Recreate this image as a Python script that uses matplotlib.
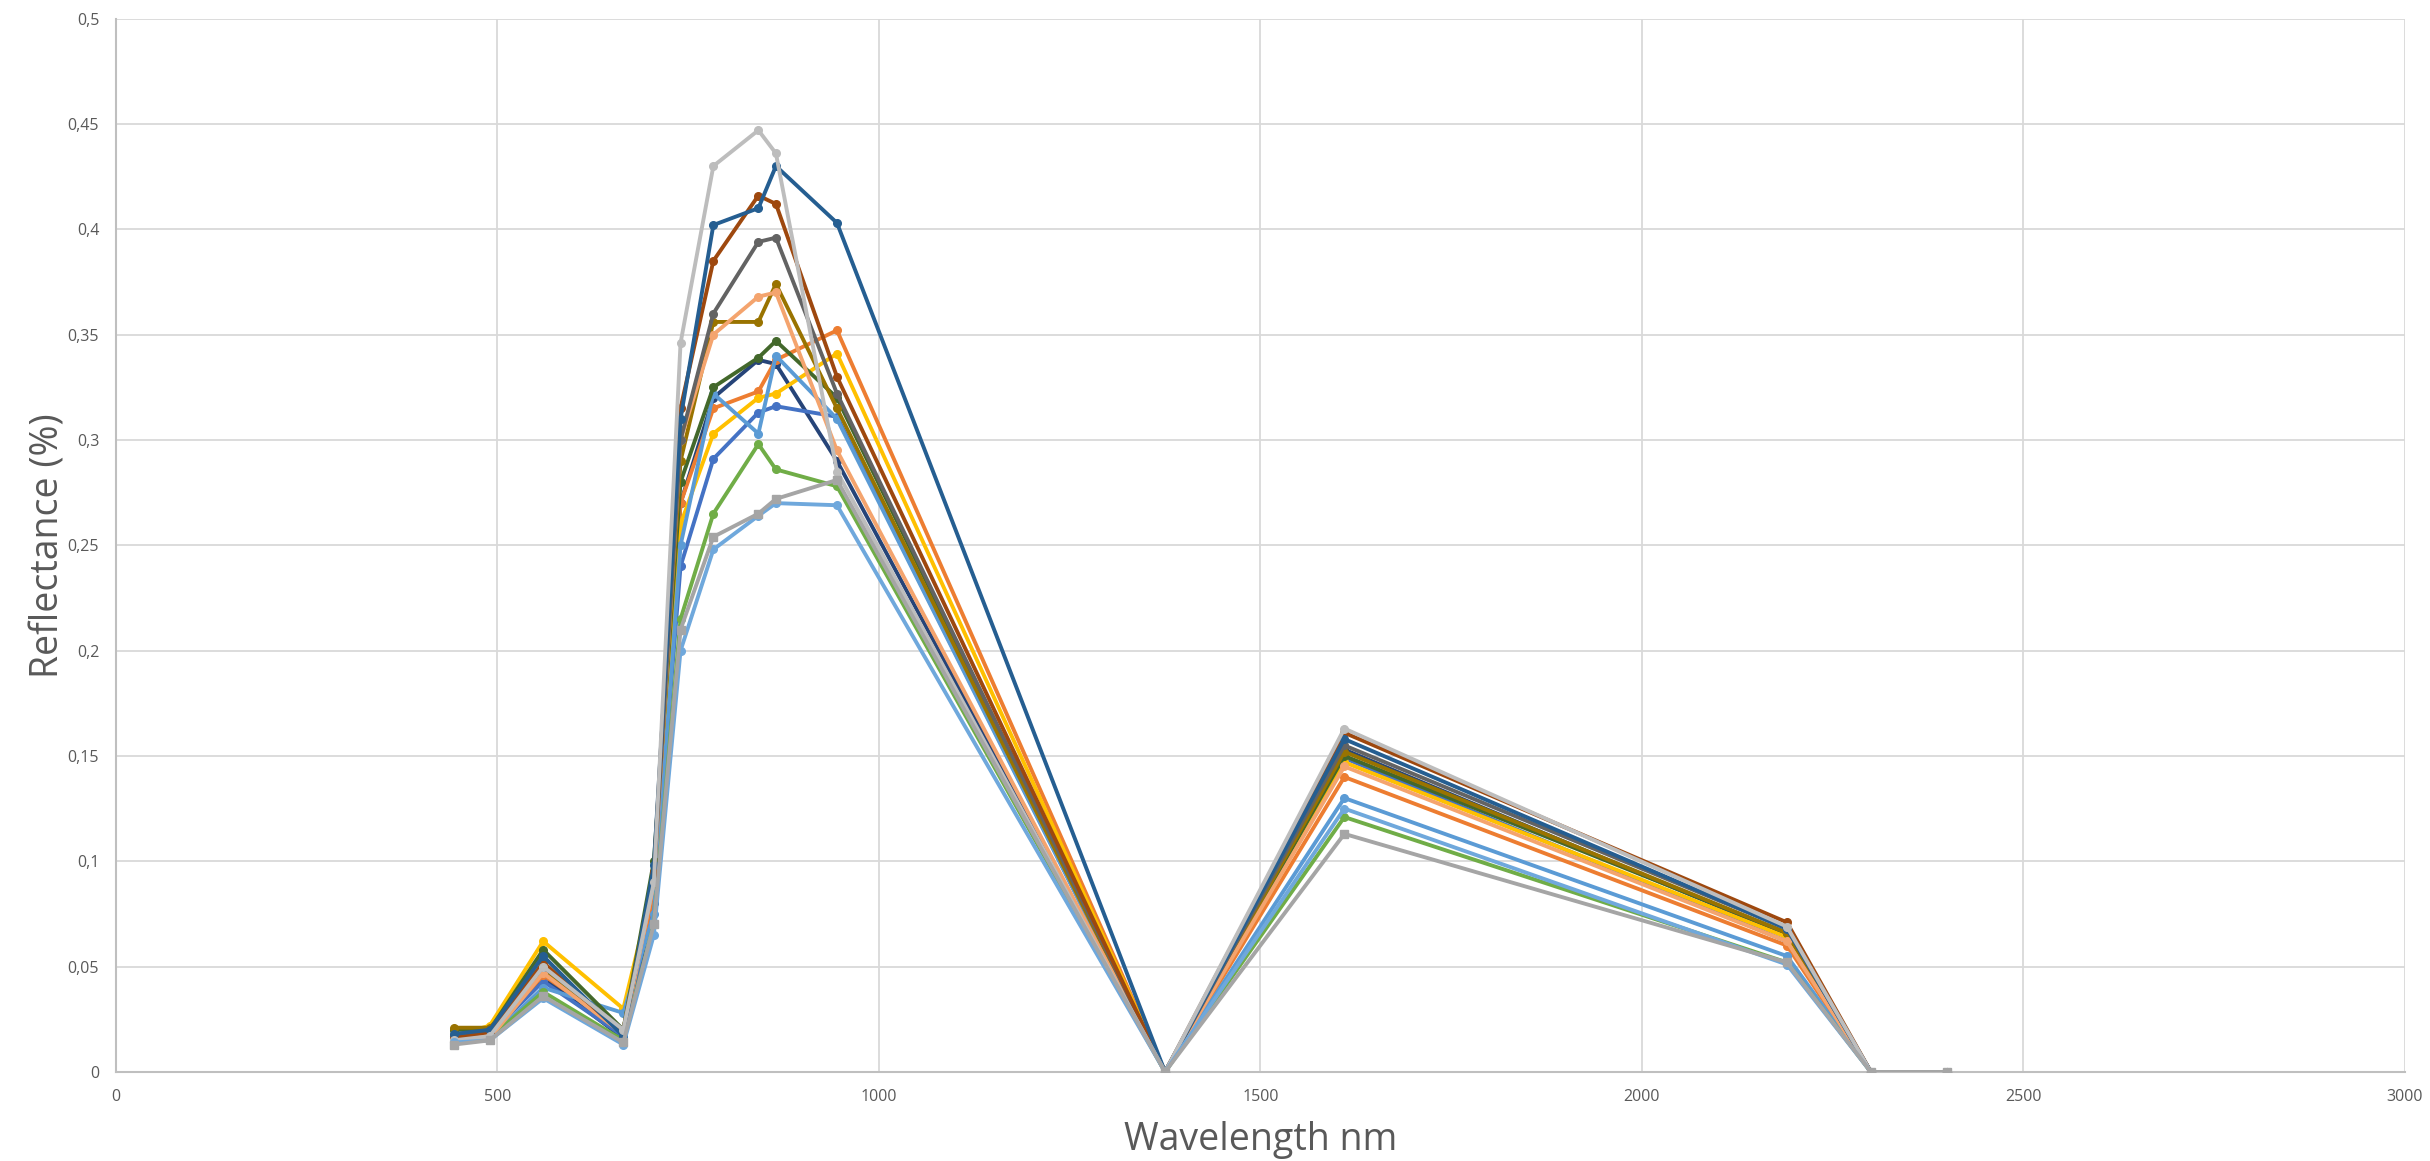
import matplotlib
matplotlib.use("Agg")
import matplotlib.pyplot as plt
from matplotlib.ticker import FuncFormatter, MultipleLocator

wavelengths = [443, 490, 560, 665, 705, 740, 783, 842, 865, 945, 1375, 1610, 2190, 2300, 2400]

s_navy      = [0.016, 0.018, 0.045, 0.016, 0.080, 0.270, 0.320, 0.338, 0.336, 0.290, 0, 0.153, 0.065, 0, 0]
s_blue      = [0.017, 0.018, 0.043, 0.017, 0.082, 0.240, 0.291, 0.313, 0.316, 0.311, 0, 0.149, 0.062, 0, 0]
s_orange    = [0.015, 0.018, 0.046, 0.020, 0.085, 0.270, 0.315, 0.323, 0.338, 0.352, 0, 0.140, 0.060, 0, 0]
s_gold      = [0.017, 0.022, 0.062, 0.030, 0.090, 0.260, 0.303, 0.320, 0.322, 0.341, 0, 0.147, 0.064, 0, 0]
s_lightblue = [0.016, 0.016, 0.040, 0.028, 0.075, 0.250, 0.322, 0.303, 0.340, 0.310, 0, 0.130, 0.055, 0, 0]
s_green     = [0.015, 0.016, 0.038, 0.015, 0.070, 0.215, 0.265, 0.298, 0.286, 0.278, 0, 0.121, 0.052, 0, 0]
s_darkgreen = [0.020, 0.020, 0.058, 0.020, 0.100, 0.280, 0.325, 0.339, 0.347, 0.320, 0, 0.150, 0.066, 0, 0]
s_olive     = [0.021, 0.021, 0.048, 0.020, 0.095, 0.290, 0.356, 0.356, 0.374, 0.315, 0, 0.152, 0.066, 0, 0]
s_peach     = [0.014, 0.016, 0.047, 0.018, 0.090, 0.300, 0.350, 0.368, 0.370, 0.295, 0, 0.145, 0.062, 0, 0]
s_darkgray  = [0.017, 0.020, 0.050, 0.020, 0.092, 0.300, 0.360, 0.394, 0.396, 0.322, 0, 0.155, 0.068, 0, 0]
s_brown     = [0.016, 0.019, 0.052, 0.018, 0.095, 0.315, 0.385, 0.416, 0.412, 0.330, 0, 0.161, 0.071, 0, 0]
s_darkblue  = [0.018, 0.020, 0.055, 0.017, 0.098, 0.310, 0.402, 0.410, 0.430, 0.403, 0, 0.158, 0.068, 0, 0]
s_lightgray = [0.015, 0.017, 0.050, 0.020, 0.090, 0.346, 0.430, 0.447, 0.436, 0.285, 0, 0.163, 0.069, 0, 0]
s_skyblue   = [0.014, 0.015, 0.035, 0.013, 0.065, 0.200, 0.248, 0.264, 0.270, 0.269, 0, 0.125, 0.051, 0, 0]
s_gray      = [0.013, 0.015, 0.036, 0.014, 0.070, 0.210, 0.254, 0.265, 0.272, 0.281, 0, 0.113, 0.052, 0, 0]

series = [
    (s_navy, "#264478", "o"),
    (s_blue, "#4472C4", "o"),
    (s_orange, "#ED7D31", "o"),
    (s_gold, "#FFC000", "o"),
    (s_lightblue, "#5B9BD5", "o"),
    (s_green, "#70AD47", "o"),
    (s_darkgreen, "#43682B", "o"),
    (s_olive, "#997300", "o"),
    (s_peach, "#F4A46E", "o"),
    (s_darkgray, "#636363", "o"),
    (s_brown, "#9E480E", "o"),
    (s_darkblue, "#255E91", "o"),
    (s_lightgray, "#BDBDBD", "o"),
    (s_skyblue, "#6FA8DC", "o"),
    (s_gray, "#A5A5A5", "s"),
]

fig = plt.figure(figsize=(24.3, 11.61), dpi=100)
ax = fig.add_axes([0.0477, 0.0767, 0.9420, 0.9073])

for vals, col, mk in series:
    ax.plot(wavelengths, vals, color=col, lw=2.8, marker=mk, markersize=5.5,
            markeredgecolor=col, markerfacecolor=col, zorder=3)

ax.set_xlim(0, 3000)
ax.set_ylim(0, 0.5)
ax.xaxis.set_major_locator(MultipleLocator(500))
ax.yaxis.set_major_locator(MultipleLocator(0.05))

def fmt(v, pos):
    s = ("%.2f" % v).rstrip("0").rstrip(".")
    if s == "":
        s = "0"
    return s.replace(".", ",")

ax.yaxis.set_major_formatter(FuncFormatter(fmt))
ax.xaxis.set_major_formatter(FuncFormatter(lambda v, p: "%d" % v))

ax.grid(True, color="#D9D9D9", lw=1.3, zorder=0)
ax.set_axisbelow(True)
for side in ["top", "right"]:
    ax.spines[side].set_visible(False)
ax.spines["left"].set_color("#BFBFBF")
ax.spines["bottom"].set_color("#BFBFBF")
ax.spines["left"].set_linewidth(1.5)
ax.spines["bottom"].set_linewidth(1.5)
ax.tick_params(length=0, labelsize=11.5, labelcolor="#595959", pad=12)

fam = ["Liberation Sans Narrow", "Open Sans", "DejaVu Sans"]
for lab in ax.get_xticklabels() + ax.get_yticklabels():
    lab.set_family(fam)

ax.set_xlabel("Wavelength nm", fontsize=27, color="#595959", family=fam, labelpad=12)
ax.set_ylabel("Reflectance (%)", fontsize=27, color="#595959", family=fam)
ax.yaxis.set_label_coords(-0.021, 0.5)

fig.savefig("out.png", dpi=100, facecolor="white")
